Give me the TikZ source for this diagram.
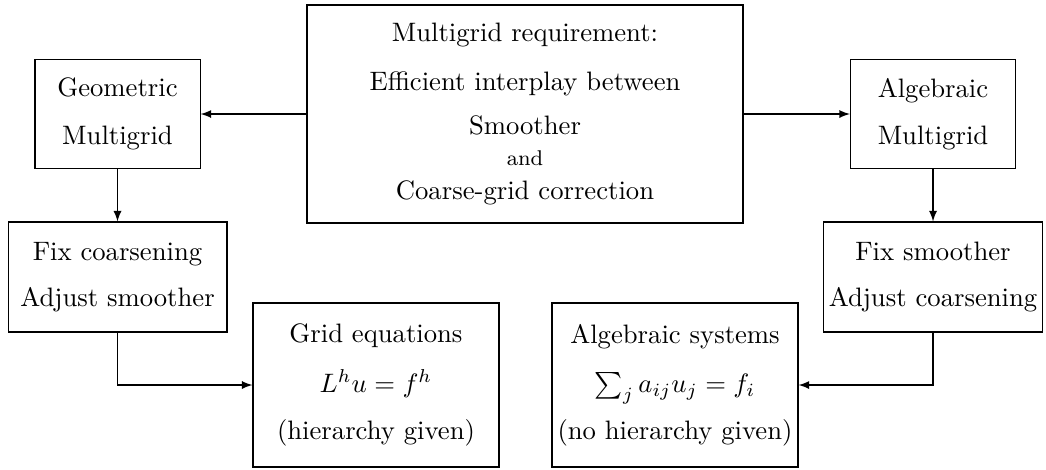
\documentclass[tikz,border=0pt]{standalone}
\usepackage{tikz}

\begin{document}
\begin{tikzpicture}
[x=0.375pt,y=-0.375pt,>=latex,every node/.style={draw,align=center,inner sep=0pt},mgbox/.style={minimum width=61.9pt,minimum height=40.9pt},fixbox/.style={minimum width=82.1pt,minimum height=41.25pt},eqbox/.style={minimum width=92.25pt,minimum height=61.5pt},]
\useasboundingbox (0,0) rectangle (1046,469);
\node[minimum width=163.5pt,minimum height=81.75pt](req) at (525,114){Multigrid requirement:\\[6.4pt]Efficient interplay between\\[4.5pt]Smoother\\[-0.4pt]{\footnotesize and}\\[0.75pt]Coarse-grid correction};
\node[mgbox](geomg) at (117.5,114){Geometric\\[5.8pt]Multigrid};
\node[mgbox](algmg) at (933,114){Algebraic\\[5.8pt]Multigrid};
\node[fixbox](fixcoarse) at (117.5,277){Fix coarsening\\[5.2pt]Adjust smoother};
\node[fixbox](fixsmooth) at (933,277){Fix smoother\\[5.2pt]Adjust coarsening};
\node[eqbox](grideq) at (376,385){Grid equations\\[6.5pt]$L^hu=f^h$\\[5.6pt](hierarchy given)};
\node[eqbox](algsys) at (675,385){Algebraic systems\\[6.5pt]$\sum_j a_{ij}u_j=f_i$\\[5.6pt](no hierarchy given)};
\draw[->] (req.west) -- (geomg.east);
\draw[->] (req.east) -- (algmg.west);
\draw[->] (geomg.south) -- (fixcoarse.north);
\draw[->] (algmg.south) -- (fixsmooth.north);
\draw[->] (fixcoarse.south) |- (grideq.west);
\draw[->] (fixsmooth.south) |- (algsys.east);
\end{tikzpicture}
\end{document}
